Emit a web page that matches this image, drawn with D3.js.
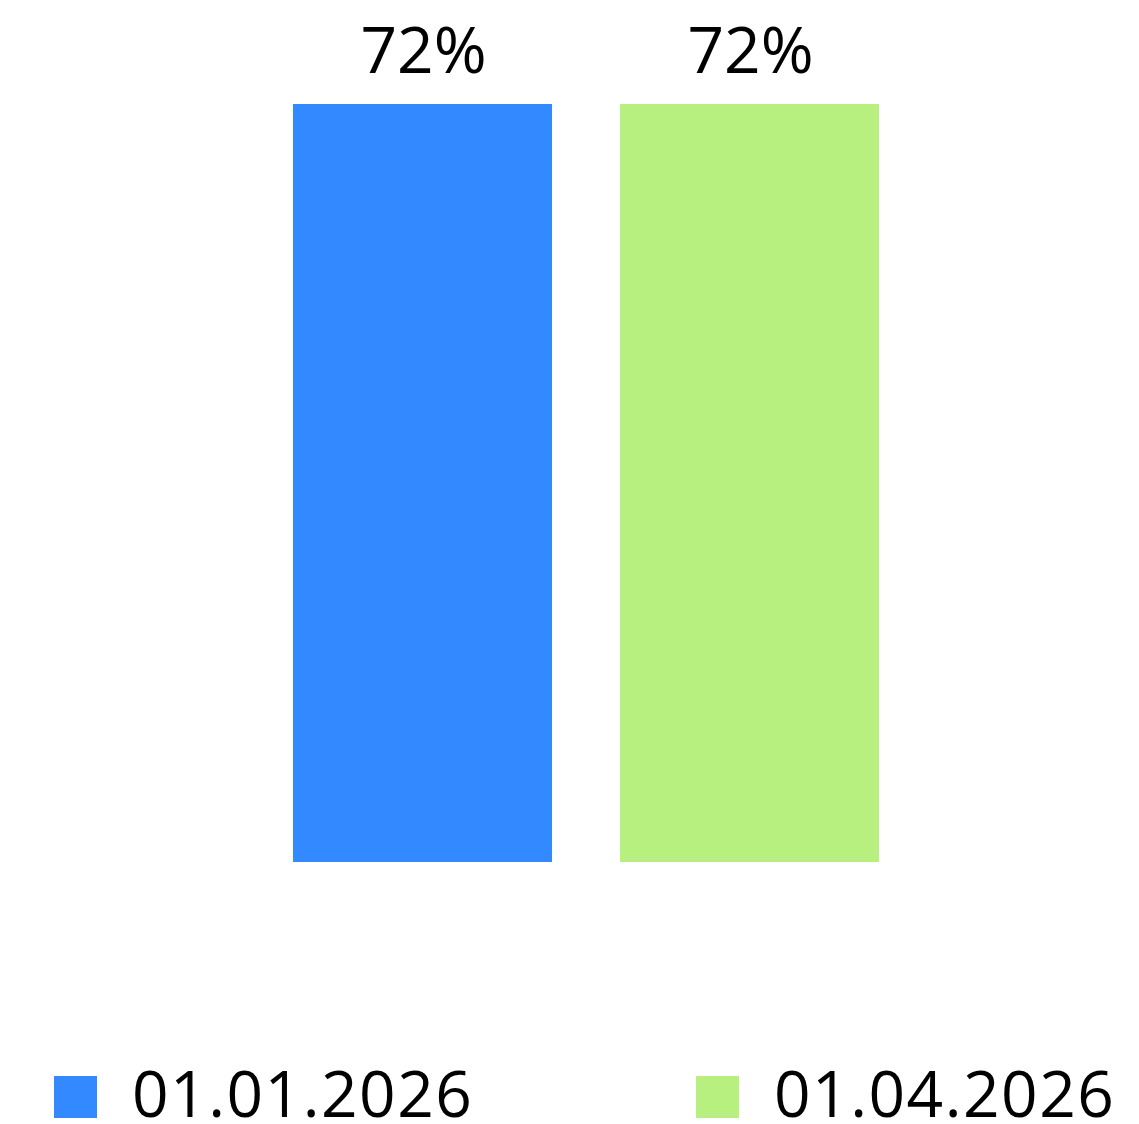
<!DOCTYPE html>
<html>
<head>
<meta charset="utf-8">
<script src="https://cdn.jsdelivr.net/npm/d3@7"></script>
<style>
  html, body { margin: 0; padding: 0; background: #fff; }
  svg { display: block; font-family: "Open Sans", sans-serif; }
</style>
</head>
<body>
<svg id="chart" width="1139" height="1124"></svg>
<script>
// data
var dates = ["01.01.2026", "01.04.2026"];
var values = [72, 72];
var colors = ["#3389ff", "#b8f080"];

var width = 1139, height = 1124;
var svg = d3.select("#chart");

var x = d3.scaleBand()
  .domain(dates)
  .range([293, 879])
  .paddingInner(0.208)
  .paddingOuter(0);

var y = d3.scaleLinear()
  .domain([0, d3.max(values)])
  .range([862, 104]);

var g = svg.append("g");

// bars
g.selectAll("rect.bar")
  .data(dates)
  .enter()
  .append("rect")
  .attr("class", "bar")
  .attr("x", function(d) { return x(d); })
  .attr("y", function(d, i) { return y(values[i]); })
  .attr("width", x.bandwidth())
  .attr("height", function(d, i) { return y(0) - y(values[i]); })
  .style("fill", function(d, i) { return colors[i]; });

// value labels
g.selectAll("text.val")
  .data(dates)
  .enter()
  .append("text")
  .attr("class", "val")
  .attr("x", function(d) { return x(d) + x.bandwidth() / 2 + 1; })
  .attr("y", function(d, i) { return y(values[i]) - 31; })
  .attr("text-anchor", "middle")
  .style("font-size", "64px")
  .style("fill", "#000")
  .text(function(d, i) { return values[i] + "%"; });

// legend
var legendX = [54, 696];
var leg = svg.append("g").selectAll("g")
  .data(dates)
  .enter()
  .append("g")
  .attr("transform", function(d, i) { return "translate(" + legendX[i] + ",1076)"; });

leg.append("rect")
  .attr("width", 43)
  .attr("height", 42)
  .style("fill", function(d, i) { return colors[i]; });

leg.append("text")
  .attr("x", 78)
  .attr("y", 41)
  .style("font-size", "64px")
  .style("letter-spacing", "1.5px")
  .style("fill", "#000")
  .text(function(d) { return d; });
</script>
</body>
</html>
